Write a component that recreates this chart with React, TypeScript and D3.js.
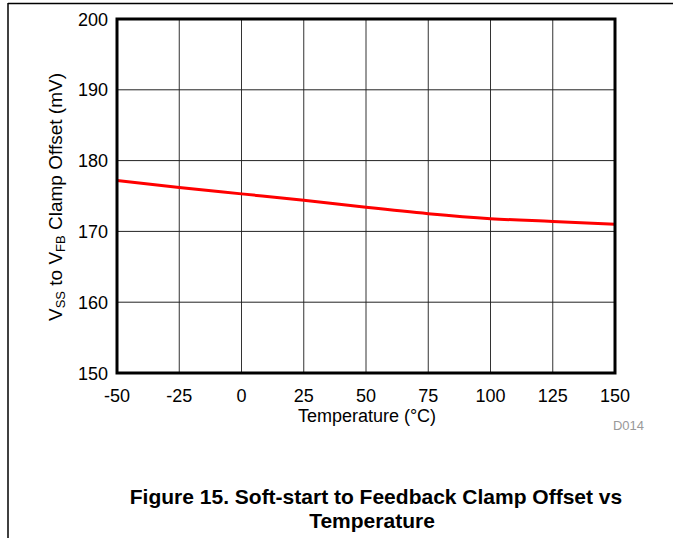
import React from "react";
import * as d3 from "d3";

const temperatures = [-50, -25, 0, 25, 50, 75, 100, 125, 150];
const offsetMv = [177.2, 176.2, 175.3, 174.4, 173.4, 172.5, 171.8, 171.4, 171.0];
const xTicks = [-50, -25, 0, 25, 50, 75, 100, 125, 150];
const yTicks = [150, 160, 170, 180, 190, 200];

const W = 673;
const H = 539;
const L = 117, R = 615, T = 19, B = 373;
const FONT = "Liberation Sans, Arial, sans-serif";

export default function App() {
  const x = d3.scaleLinear().domain([-50, 150]).range([L, R]);
  const y = d3.scaleLinear().domain([150, 200]).range([B, T]);
  const line = d3
    .line<number>()
    .x((_, i) => x(temperatures[i]))
    .y((d) => y(d))
    .curve(d3.curveMonotoneX);

  return (
    <svg
      width={W}
      height={H}
      style={{ position: "absolute", left: 0, top: 0, background: "#fff" }}
      fontFamily={FONT}
    >
      <rect x={0} y={0} width={W} height={H} fill="#fff" />
      {/* page frame */}
      <line x1={8} x2={W} y1={3.5} y2={3.5} stroke="#000" strokeWidth={1.5} />
      <line x1={8} x2={8} y1={3} y2={538} stroke="#000" strokeWidth={1.5} />

      {/* grid */}
      {xTicks.slice(1, -1).map((t) => (
        <line key={"gx" + t} x1={x(t)} x2={x(t)} y1={T} y2={B} stroke="#333" strokeWidth={1} />
      ))}
      {yTicks.slice(1, -1).map((t) => (
        <line key={"gy" + t} x1={L} x2={R} y1={y(t)} y2={y(t)} stroke="#222" strokeWidth={1} />
      ))}

      {/* data */}
      <path d={line(offsetMv) || ""} fill="none" stroke="#ff0000" strokeWidth={3} />

      {/* plot frame */}
      <rect x={L} y={T} width={R - L} height={B - T} fill="none" stroke="#000" strokeWidth={3} />

      {/* tick labels */}
      {xTicks.map((t) => (
        <text key={"tx" + t} x={x(t)} y={B + 28.5} textAnchor="middle" fontSize={18} fill="#000">
          {t}
        </text>
      ))}
      {yTicks.map((t) => (
        <text key={"ty" + t} x={L - 9} y={y(t) + 6.5} textAnchor="end" fontSize={18} fill="#000">
          {t}
        </text>
      ))}

      {/* axis titles */}
      <text x={367} y={422} textAnchor="middle" fontSize={18} fill="#000">
        Temperature (°C)
      </text>
      <text
        transform={`translate(62, 197) rotate(-90)`}
        textAnchor="middle"
        fontSize={19}
        fill="#000"
      >
        <tspan>V</tspan>
        <tspan fontSize={13} dy={3}>SS</tspan>
        <tspan dy={-3}> to V</tspan>
        <tspan fontSize={13} dy={3}>FB</tspan>
        <tspan dy={-3}> Clamp Offset (mV)</tspan>
      </text>

      <text x={644} y={430} textAnchor="end" fontSize={13} fill="#999">
        D014
      </text>

      {/* caption */}
      <text x={376} y={504} textAnchor="middle" fontSize={21} fontWeight="bold" fill="#000">
        Figure 15. Soft-start to Feedback Clamp Offset vs
      </text>
      <text x={372} y={528} textAnchor="middle" fontSize={21} fontWeight="bold" fill="#000">
        Temperature
      </text>
    </svg>
  );
}
